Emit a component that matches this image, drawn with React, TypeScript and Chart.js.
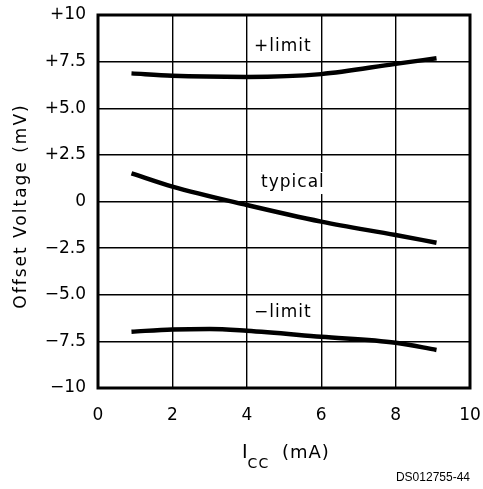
import React, { useEffect, useRef } from "react";
import { Chart, registerables } from "chart.js";

Chart.register(...registerables);

const plusLimitX = [0.9, 2, 4, 6, 8, 9.1];
const plusLimitY = [6.87, 6.74, 6.68, 6.83, 7.38, 7.68];
const typicalX = [0.9, 2, 4, 6, 8, 9.1];
const typicalY = [1.51, 0.8, -0.19, -1.08, -1.8, -2.21];
const minusLimitX = [0.9, 2, 3, 4, 6, 8, 9.1];
const minusLimitY = [-6.98, -6.86, -6.83, -6.93, -7.25, -7.57, -7.96];

const yTickValues = [-10, -7.5, -5, -2.5, 0, 2.5, 5, 7.5, 10];
const yTickLabels = ["\u221210", "\u22127.5", "\u22125.0", "\u22122.5", "0", "+2.5", "+5.0", "+7.5", "+10"];
const xTickValues = [0, 2, 4, 6, 8, 10];
const xTickLabels = ["0", "2", "4", "6", "8", "10"];

const curveLabels = ["+limit", "typical", "\u2212limit"];
const curveLabelX = [4.97, 5.24, 4.97];
const curveLabelY = [8.28, 0.99, -5.98];

const FONT = "'DejaVu Sans', sans-serif";

export default function App() {
  const ref = useRef<HTMLCanvasElement>(null);
  useEffect(() => {
    document.body.style.margin = "0";
    const toPts = (xs: number[], ys: number[]) => xs.map((x, i) => ({ x, y: ys[i] }));
    const mk = (xs: number[], ys: number[]) => ({
      data: toPts(xs, ys),
      borderColor: "#000",
      borderWidth: 4.5,
      pointRadius: 0,
      cubicInterpolationMode: "monotone" as const,
      fill: false,
    });
    const deco = {
      id: "deco",
      afterDraw(chart: any) {
        const ctx = chart.ctx as any;
        const { left, right, top, bottom } = chart.chartArea;
        const xs = chart.scales.x;
        const ys = chart.scales.y;
        ctx.save();
        ctx.strokeStyle = "#000";
        ctx.lineWidth = 3;
        ctx.strokeRect(left, top, right - left, bottom - top);
        ctx.font = `17px ${FONT}`;
        ctx.letterSpacing = "1px";
        ctx.textAlign = "center";
        ctx.textBaseline = "middle";
        curveLabels.forEach((t, i) => {
          const px = xs.getPixelForValue(curveLabelX[i]);
          const py = ys.getPixelForValue(curveLabelY[i]);
          const w = ctx.measureText(t).width;
          ctx.fillStyle = "#fff";
          ctx.fillRect(px - w / 2 - 3, py - 11, w + 6, 22);
          ctx.fillStyle = "#000";
          ctx.fillText(t, px, py);
        });
        // y title
        ctx.save();
        ctx.translate(22, 206);
        ctx.rotate(-Math.PI / 2);
        ctx.font = `17px ${FONT}`;
        ctx.letterSpacing = "2px";
        ctx.textAlign = "center";
        ctx.textBaseline = "middle";
        ctx.fillText("Offset Voltage (mV)", 0, 0);
        ctx.restore();
        // x title with subscript
        ctx.letterSpacing = "1px";
        ctx.textBaseline = "alphabetic";
        ctx.textAlign = "left";
        let x0 = 242;
        ctx.font = `19px ${FONT}`;
        ctx.fillText("I", x0, 458);
        x0 += ctx.measureText("I").width;
        ctx.font = `14px ${FONT}`;
        ctx.fillText("CC", x0 - 1, 468);
        ctx.font = `18px ${FONT}`;
        ctx.fillText("(mA)", 282, 458);
        ctx.letterSpacing = "0px";
        ctx.font = `12px 'Liberation Sans', Arial, sans-serif`;
        ctx.textAlign = "right";
        ctx.textBaseline = "middle";
        ctx.fillText("DS012755-44", 470, 478);
        ctx.restore();
      },
    };
    const chart = new Chart(ref.current!, {
      type: "line",
      data: {
        datasets: [mk(plusLimitX, plusLimitY), mk(typicalX, typicalY), mk(minusLimitX, minusLimitY)],
      },
      options: {
        animation: false,
        responsive: false,
        layout: { padding: { top: 15, right: 13, left: 0, bottom: 0 } },
        plugins: { legend: { display: false }, tooltip: { enabled: false } },
        scales: {
          x: {
            type: "linear",
            min: 0,
            max: 10,
            afterBuildTicks(s: any) {
              s.ticks = xTickValues.map((v) => ({ value: v }));
            },
            afterFit(s: any) {
              s.height = 489 - 388;
              s.paddingLeft = 0;
              s.paddingRight = 0;
            },
            ticks: {
              color: "#000",
              font: { family: FONT, size: 17 },
              padding: 17,
              maxRotation: 0,
              callback: (v: any) => xTickLabels[xTickValues.indexOf(Number(v))] ?? "",
            },
            grid: { color: "#000", lineWidth: 1.4, drawTicks: false },
            border: { display: false },
          },
          y: {
            type: "linear",
            min: -10,
            max: 10,
            afterBuildTicks(s: any) {
              s.ticks = yTickValues.map((v) => ({ value: v }));
            },
            afterFit(s: any) {
              s.width = 98;
              s.paddingTop = 0;
              s.paddingBottom = 0;
            },
            ticks: {
              color: "#000",
              font: { family: FONT, size: 17 },
              padding: 12,
              callback: (v: any) => yTickLabels[yTickValues.indexOf(Number(v))] ?? "",
            },
            grid: { color: "#000", lineWidth: 1.4, drawTicks: false },
            border: { display: false },
          },
        },
      },
      plugins: [deco],
    });
    return () => chart.destroy();
  }, []);
  return (
    <div style={{ position: "absolute", left: 0, top: 0, width: 483, height: 489, background: "#fff" }}>
      <canvas ref={ref} width={483} height={489} style={{ width: 483, height: 489 }} />
    </div>
  );
}
